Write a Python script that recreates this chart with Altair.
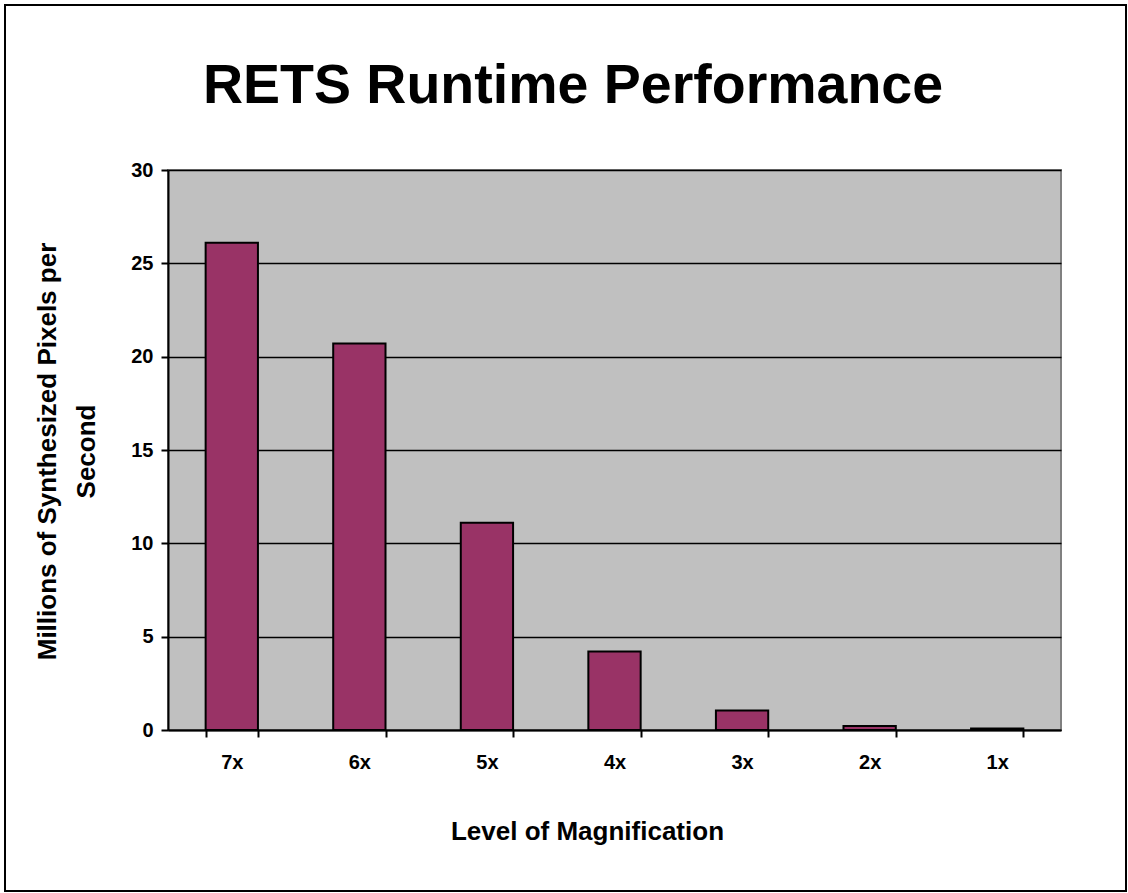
import altair as alt
import pandas as pd

# Throughput at each magnification level (millions of synthesized pixels / s)
levels = ["7x", "6x", "5x", "4x", "3x", "2x", "1x"]
throughput = [26.1, 20.7, 11.1, 4.2, 1.05, 0.22, 0.08]

chart_title = "RETS Runtime Performance"
x_title = "Level of Magnification"
y_title = ["Millions of Synthesized Pixels per", "Second"]
y_ticks = [0, 5, 10, 15, 20, 25, 30]

df = pd.DataFrame({"level": levels, "value": throughput})

FONT = "Liberation Sans"

bars = alt.Chart(df).mark_bar(
    color="#993366", stroke="#000000", strokeWidth=2
).encode(
    x=alt.X(
        "level:N",
        sort=levels,
        scale=alt.Scale(paddingInner=0.59, paddingOuter=0.295),
        axis=alt.Axis(
            title=x_title,
            labelAngle=0,
            labelFont=FONT,
            labelFontSize=20,
            labelFontWeight="bold",
            labelColor="#000000",
            labelPadding=15,
            tickBand="extent",
            tickSize=7,
            tickColor="#000000",
            tickWidth=2,
            domainColor="#000000",
            domainWidth=2,
            titleFont=FONT,
            titleFontSize=26,
            titleFontWeight="bold",
            titleColor="#000000",
            titleX=419,
            titleY=109,
            titleAnchor="start",
            titleAlign="center",
            titleBaseline="alphabetic",
        ),
    ),
    y=alt.Y(
        "value:Q",
        scale=alt.Scale(domain=[0, 30], nice=False),
        axis=alt.Axis(
            title=y_title,
            values=y_ticks,
            labelFont=FONT,
            labelFontSize=20,
            labelFontWeight="bold",
            labelColor="#000000",
            labelPadding=8,
            tickSize=7,
            tickColor="#000000",
            tickWidth=2,
            domainColor="#000000",
            domainWidth=2,
            grid=True,
            gridColor="#000000",
            gridWidth=1.5,
            titleFont=FONT,
            titleFontSize=26,
            titleFontWeight="bold",
            titleColor="#000000",
            titleAngle=270,
            titleX=-113,
            titleY=281,
            titleAlign="center",
            titleBaseline="alphabetic",
            titleLineHeight=39,
        ),
    ),
)

# Chart heading, placed above the plot area
heading = alt.Chart(pd.DataFrame({"t": [chart_title]})).mark_text(
    font=FONT, fontSize=55.5, fontWeight="bold", color="#000000",
    align="center", baseline="alphabetic",
).encode(text="t:N", x=alt.value(405), y=alt.value(-67))

# Thin black frame around the whole figure
frame = alt.Chart(pd.DataFrame({"k": [0]})).mark_rect(
    fill=None, stroke="#000000", strokeWidth=2
).encode(
    x=alt.value(-163), x2=alt.value(958),
    y=alt.value(-165), y2=alt.value(721),
)

chart = alt.layer(bars, heading, frame).properties(
    width=893,
    height=560,
    autosize=alt.AutoSizeParams(type="none"),
    padding={"left": 168, "top": 170, "right": 67, "bottom": 163},
    background="#ffffff",
).configure_view(
    fill="#C0C0C0", stroke="#808080", strokeWidth=2
)

chart.save("out.html", embed_options={"renderer": "svg", "actions": False})
